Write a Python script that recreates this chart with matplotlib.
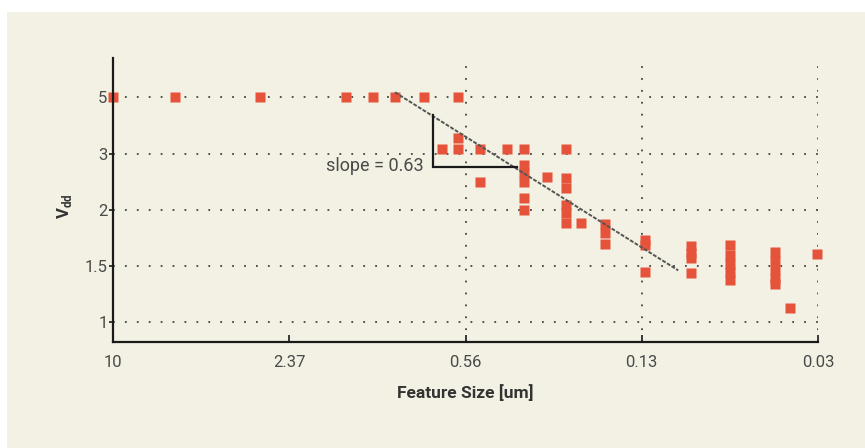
import matplotlib
matplotlib.use("Agg")
import matplotlib.pyplot as plt
from matplotlib.patches import Rectangle

# ---- data ----
feature_size = [10, 6.03, 3.0, 1.49, 1.2, 1.0, 0.79, 0.6,
                0.68, 0.6, 0.6, 0.5, 0.5, 0.4,
                0.349, 0.349, 0.349, 0.349, 0.349, 0.349,
                0.29, 0.248, 0.248, 0.248, 0.248, 0.248, 0.248,
                0.219, 0.18, 0.18, 0.18,
                0.13, 0.13, 0.13,
                0.0894, 0.0894, 0.0894, 0.0894,
                0.065, 0.065, 0.065, 0.065, 0.065,
                0.0448, 0.0448, 0.0448, 0.0448, 0.0448,
                0.0397, 0.032]
vdd = [5, 5, 5, 5, 5, 5, 5, 5,
       3.45, 3.73, 3.45, 3.45, 2.72, 3.45,
       3.45, 3.09, 2.90, 2.72, 2.44, 2.23,
       2.82, 3.45, 2.80, 2.61, 2.32, 2.18, 2.04,
       2.03, 2.02, 1.90, 1.75,
       1.80, 1.74, 1.43,
       1.73, 1.64, 1.58, 1.42,
       1.74, 1.62, 1.52, 1.43, 1.35,
       1.65, 1.55, 1.45, 1.36, 1.32,
       1.11, 1.63]

trend_x = [1.0, 0.099]
trend_y = [5.18, 1.45]

tri_x = [0.731, 0.731, 0.37]
tri_y = [4.41, 3.03, 3.03]
slope_label = "slope = 0.63"

xtick_vals = [10, 2.371, 0.5623, 0.1334, 0.03162]
xtick_labels = ["10", "2.37", "0.56", "0.13", "0.03"]
xgrid_vals = [0.5623, 0.1334, 0.03162]
ytick_vals = [1.0, 1.495, 2.236, 3.344, 5.0]
ytick_labels = ["1", "1.5", "2", "3", "5"]

# ---- style ----
plt.rcParams['font.family'] = ['Roboto', 'DejaVu Sans']
plt.rcParams['mathtext.fontset'] = 'custom'
plt.rcParams['mathtext.bf'] = 'Roboto:bold'
plt.rcParams['mathtext.rm'] = 'Roboto'

cream = '#f2f1e3'
red = '#e5533b'
txt = '#4a4a4a'

fig = plt.figure(figsize=(8.65, 4.48), dpi=100, facecolor='white')
bg = Rectangle((7/865, 0), 1 - 7/865, (448-12)/448,
               transform=fig.transFigure, facecolor=cream,
               edgecolor='none', zorder=-10)
fig.add_artist(bg)

ax = fig.add_axes([113/865, 106/448, 705/865, 284/448])
ax.set_facecolor('none')
ax.set_xscale('log')
ax.set_yscale('log')
ax.set_xlim(10, 0.03162)
ax.set_ylim(0.869, 6.62)

ax.minorticks_off()
ax.set_xticks(xtick_vals)
ax.set_xticklabels(xtick_labels)
ax.set_yticks(ytick_vals)
ax.set_yticklabels(ytick_labels)

# grid
dot = (0, (1, 5.6))
for yv in ytick_vals:
    ax.axhline(yv, color='#444444', lw=1.3, linestyle=dot, zorder=1)
for xv in xgrid_vals:
    ax.axvline(xv, color='#444444', lw=1.3, linestyle=dot, zorder=1)

ax.plot(feature_size, vdd, linestyle='none', marker='s', markersize=6.5,
        markerfacecolor=red, markeredgecolor='none', zorder=3, clip_on=False)

ax.plot(trend_x, trend_y, color='#555555', lw=1.4, linestyle=(0, (2, 0.8)),
        zorder=4)
ax.plot(tri_x, tri_y, color='#1a1a1a', lw=1.6, zorder=4,
        solid_joinstyle='miter')
ax.text(0.79, 3.05, slope_label, ha='right', va='center', fontsize=13,
        color=txt)

for s in ['top', 'right']:
    ax.spines[s].set_visible(False)
for s in ['left', 'bottom']:
    ax.spines[s].set_linewidth(1.6)
    ax.spines[s].set_color('#1a1a1a')
    ax.spines[s].set_zorder(5)

ax.tick_params(axis='x', direction='in', length=5, width=1.2, color='#1a1a1a',
               labelsize=12, labelcolor=txt, pad=9)
ax.tick_params(axis='y', direction='out', length=3, width=1.2, color='#1a1a1a',
               labelsize=12, labelcolor=txt, pad=1)

ax.set_xlabel('Feature Size [um]', fontsize=12.5, fontweight='bold', color='#333333')
ax.xaxis.set_label_coords(0.5, -0.148)
ax.set_ylabel(r'$\mathbf{V}_{\mathbf{dd}}$', fontsize=12, color='#333333')
ax.yaxis.set_label_coords(-0.055, 0.477)

fig.savefig('out.png', dpi=100, facecolor='white')
